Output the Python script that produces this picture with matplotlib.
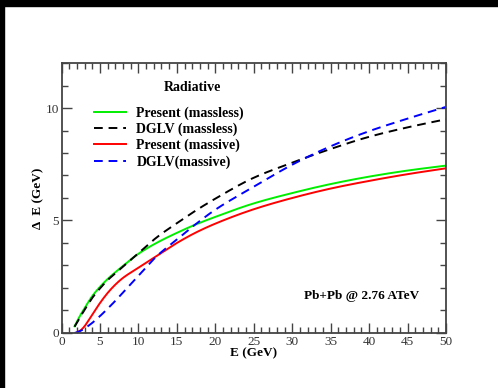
import numpy as np
import matplotlib
matplotlib.use('Agg')
import matplotlib.pyplot as plt
from matplotlib.patches import Rectangle
from matplotlib.ticker import MultipleLocator

plt.rcParams['font.family'] = ['Liberation Serif', 'DejaVu Serif']

# energy loss curves, E in GeV
e_green = [1.7, 2, 2.5, 3, 3.5, 4, 5, 6, 7, 8, 10, 12.5, 15, 17.5, 20, 25, 30, 35, 40, 45, 50]
de_green = [0.3, 0.5, 0.82, 1.1, 1.38, 1.64, 2.05, 2.4, 2.7, 2.98, 3.52, 4.03, 4.45, 4.83, 5.16,
            5.76, 6.22, 6.62, 6.95, 7.22, 7.44]

e_black = [1.7, 2, 2.5, 3, 3.5, 4, 5, 6, 7, 8, 10, 12.5, 15, 17.5, 20, 25, 30, 35, 40, 45, 50]
de_black = [0.28, 0.45, 0.75, 1.03, 1.3, 1.56, 1.98, 2.35, 2.65, 2.95, 3.55, 4.28, 4.88, 5.45, 5.97,
            6.9, 7.57, 8.18, 8.72, 9.14, 9.5]

e_red = [1.9, 2, 2.5, 3, 3.5, 4, 5, 6, 7, 8, 10, 12.5, 15, 17.5, 20, 25, 30, 35, 40, 45, 50]
de_red = [0.0, 0.02, 0.12, 0.3, 0.55, 0.82, 1.33, 1.78, 2.15, 2.45, 2.9, 3.45, 4.0, 4.47, 4.86,
          5.5, 6.0, 6.42, 6.76, 7.06, 7.32]

e_blue = [1.7, 2, 2.5, 3, 3.5, 4, 5, 6, 7, 8, 10, 12.5, 15, 17.5, 20, 25, 30, 35, 40, 45, 50]
de_blue = [0.0, 0.03, 0.1, 0.2, 0.32, 0.45, 0.75, 1.08, 1.43, 1.8, 2.55, 3.45, 4.15, 4.85, 5.48,
           6.5, 7.48, 8.3, 8.97, 9.53, 10.05]


def pchip(x, y, n=400):
    # monotone cubic (Fritsch-Carlson) for smooth curves through the points
    x = np.asarray(x, float)
    y = np.asarray(y, float)
    h = np.diff(x)
    d = np.diff(y) / h
    m = np.zeros_like(y)
    for k in range(1, len(x) - 1):
        if d[k - 1] * d[k] > 0:
            w1 = 2 * h[k] + h[k - 1]
            w2 = h[k] + 2 * h[k - 1]
            m[k] = (w1 + w2) / (w1 / d[k - 1] + w2 / d[k])
    m[0] = d[0]
    m[-1] = d[-1]
    xs = np.linspace(x[0], x[-1], n)
    i = np.clip(np.searchsorted(x, xs) - 1, 0, len(x) - 2)
    t = (xs - x[i]) / h[i]
    h00 = 2 * t**3 - 3 * t**2 + 1
    h10 = t**3 - 2 * t**2 + t
    h01 = -2 * t**3 + 3 * t**2
    h11 = t**3 - t**2
    ys = h00 * y[i] + h10 * h[i] * m[i] + h01 * y[i + 1] + h11 * h[i] * m[i + 1]
    return xs, ys


fig = plt.figure(figsize=(4.98, 3.88), dpi=100)
ax = fig.add_axes([0.1235, 0.1418, 0.7721, 0.6958])

dash = (0, (4.5, 3))
ax.plot(*pchip(e_green, de_green), color='#00ee00', lw=1.4, label='Present (massless)')
ax.plot(*pchip(e_black, de_black), color='black', lw=1.4, linestyle=dash, label='DGLV (massless)')
ax.plot(*pchip(e_red, de_red), color='#ff0000', lw=1.4, label='Present (massive)')
ax.plot(*pchip(e_blue, de_blue), color='#0000ff', lw=1.4, linestyle=dash, label='DGLV(massive)')

ax.set_xlim(0, 50)
ax.set_ylim(0, 12)
ax.xaxis.set_major_locator(MultipleLocator(5))
ax.xaxis.set_minor_locator(MultipleLocator(1))
ax.yaxis.set_major_locator(MultipleLocator(5))
ax.yaxis.set_minor_locator(MultipleLocator(1))
ax.tick_params(which='both', direction='in', top=True, right=True, color='#444444', width=1)
ax.tick_params(which='major', length=7, labelsize=9.5, labelcolor='#333333', pad=2)
ax.tick_params(which='minor', length=4)
for s in ax.spines.values():
    s.set_color('#444444')
    s.set_linewidth(1.3)

ax.set_xlabel('E (GeV)', fontsize=9.5, fontweight='bold', labelpad=0)
ax.set_ylabel('Δ  E (GeV)', fontsize=9.5, fontweight='bold', labelpad=1)

leg = ax.legend(loc='upper left', bbox_to_anchor=(0.07, 0.86), frameon=False,
                prop={'weight': 'bold', 'size': 10}, handlelength=2.3,
                handletextpad=0.75, labelspacing=0.2, borderaxespad=0)
ax.text(0.34, 0.91, 'Radiative', transform=ax.transAxes, ha='center', va='center',
        fontsize=10, fontweight='bold')
ax.text(0.78, 0.137, 'Pb+Pb @ 2.76 ATeV', transform=ax.transAxes, ha='center', va='center',
        fontsize=9.5, fontweight='bold')

# black frame strips along top and left edge
fig.patches.append(Rectangle((0, 1 - 6 / 388), 1, 6 / 388, transform=fig.transFigure,
                             color='black', zorder=10))
fig.patches.append(Rectangle((0, 0), 4 / 498, 1, transform=fig.transFigure,
                             color='black', zorder=10))

plt.savefig('out.png', dpi=100)
